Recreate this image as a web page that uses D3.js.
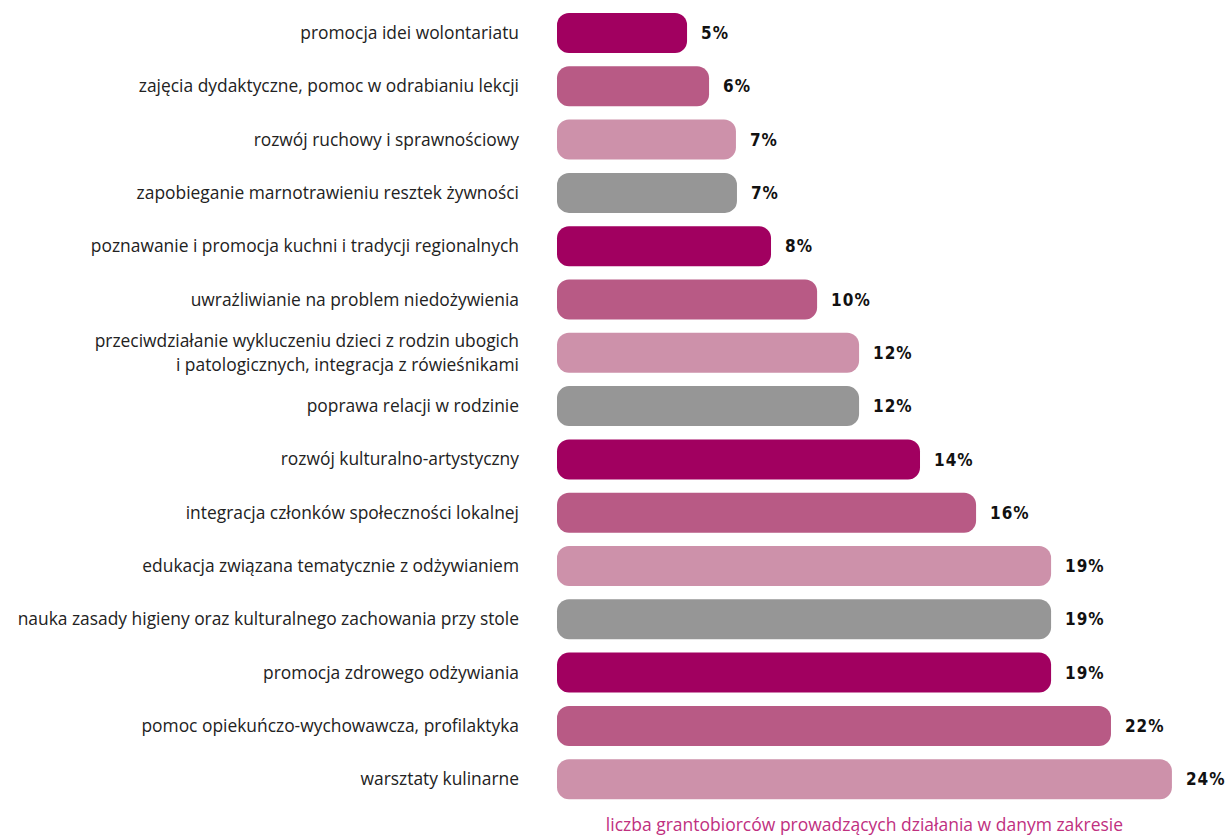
<!DOCTYPE html>
<html>
<head>
<meta charset="utf-8">
<script src="https://cdn.jsdelivr.net/npm/d3@7"></script>
<style>
  body { margin: 0; background: #fff; }
  .cat { font-family: "Open Sans", Lato, sans-serif; font-size: 17.4px; fill: #222; }
  .val { font-family: "DejaVu Sans Condensed", "DejaVu Sans", sans-serif; font-weight: bold; font-size: 17px; fill: #111; letter-spacing: 1px; }
  .cap { font-family: "Open Sans", Lato, sans-serif; font-size: 17.5px; fill: #c0307f; }
</style>
</head>
<body>
<div id="chart"></div>
<script>
const categories = [
  ["promocja idei wolontariatu"],
  ["zajęcia dydaktyczne, pomoc w odrabianiu lekcji"],
  ["rozwój ruchowy i sprawnościowy"],
  ["zapobieganie marnotrawieniu resztek żywności"],
  ["poznawanie i promocja kuchni i tradycji regionalnych"],
  ["uwrażliwianie na problem niedożywienia"],
  ["przeciwdziałanie wykluczeniu dzieci z rodzin ubogich", "i patologicznych, integracja z rówieśnikami"],
  ["poprawa relacji w rodzinie"],
  ["rozwój kulturalno-artystyczny"],
  ["integracja członków społeczności lokalnej"],
  ["edukacja związana tematycznie z odżywianiem"],
  ["nauka zasady higieny oraz kulturalnego zachowania przy stole"],
  ["promocja zdrowego odżywiania"],
  ["pomoc opiekuńczo-wychowawcza, profilaktyka"],
  ["warsztaty kulinarne"]
];
const values = [5.08, 5.94, 6.99, 7.03, 8.36, 10.16, 11.8, 11.8, 14.18, 16.37, 19.3, 19.3, 19.3, 21.64, 24.02];
const palette = ["#a10060", "#b85a85", "#cd91aa", "#969696"];
const caption = "liczba grantobiorców prowadzących działania w danym zakresie";

const width = 1227, height = 836;
const margin = { top: 13, left: 557, right: 30, bottom: 37 };

const svg = d3.select("#chart").append("svg")
  .attr("width", width).attr("height", height);

const idx = d3.range(values.length);
// step ~53.3px, bar height ~40px
const y = d3.scaleBand().domain(idx)
  .range([margin.top, margin.top + 53.3 * (values.length - 1) + 40])
  .paddingInner(0.25).paddingOuter(0);
const x = d3.scaleLinear().domain([0, 25]).range([margin.left, margin.left + 640]);

svg.selectAll("rect.bar").data(idx).enter().append("rect")
  .attr("class", "bar")
  .attr("x", x(0))
  .attr("y", i => y(i))
  .attr("width", i => x(values[i]) - x(0))
  .attr("height", y.bandwidth())
  .attr("rx", 12).attr("ry", 12)
  .attr("fill", i => palette[i % palette.length]);

svg.selectAll("text.val").data(idx).enter().append("text")
  .attr("class", "val")
  .attr("x", i => x(values[i]) + 14)
  .attr("y", i => y(i) + y.bandwidth() / 2)
  .attr("dy", "0.36em")
  .text(i => Math.round(values[i]) + "%");

const cats = svg.selectAll("text.cat").data(idx).enter().append("text")
  .attr("class", "cat")
  .attr("text-anchor", "end")
  .attr("x", margin.left - 38)
  .attr("y", i => y(i) + y.bandwidth() / 2);

cats.selectAll("tspan").data(i => categories[i].map((t, j, a) => ({ t, j, n: a.length })))
  .enter().append("tspan")
  .attr("x", margin.left - 38)
  .attr("dy", d => d.j === 0 ? (0.35 - (d.n - 1) * 0.68) + "em" : "1.36em")
  .text(d => d.t);

svg.append("text")
  .attr("class", "cap")
  .attr("text-anchor", "middle")
  .attr("x", (x(0) + x(values[values.length - 1])) / 2)
  .attr("y", 831)
  .text(caption);
</script>
</body>
</html>
